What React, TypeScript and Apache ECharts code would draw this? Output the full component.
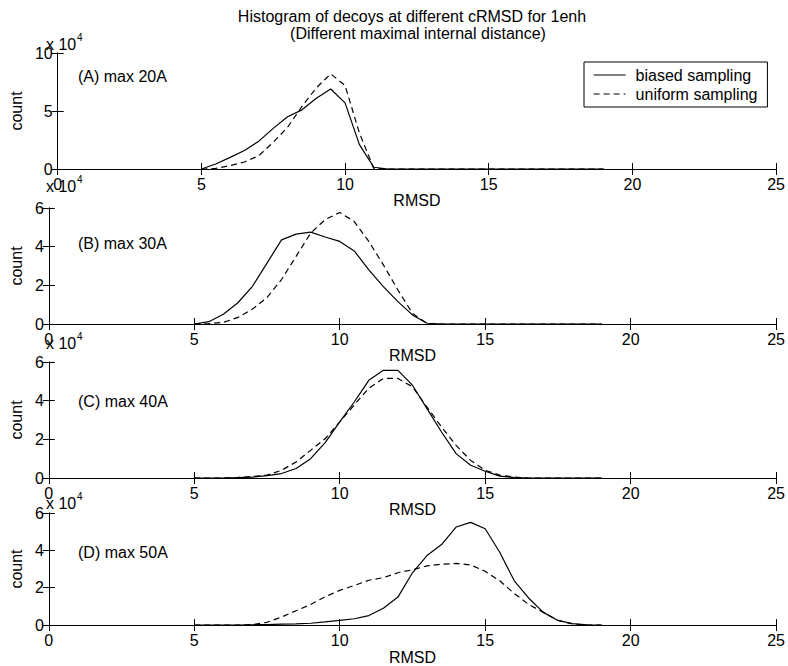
import React, { useEffect, useRef } from "react";
import * as echarts from "echarts";

// RMSD bin centres (shared by every panel)
const rmsd = [5, 5.5, 6, 6.5, 7, 7.5, 8, 8.5, 9, 9.5, 10, 10.5, 11, 11.5, 12, 12.5, 13, 13.5, 14, 14.5, 15, 15.5, 16, 16.5, 17, 17.5, 18, 18.5, 19];

// counts per bin
const biasedA = [0, 4300, 10000, 16000, 24000, 35000, 45000, 51000, 61000, 69000, 57000, 21000, 1500, 0, 0, 0, 0, 0, 0, 0, 0, 0, 0, 0, 0, 0, 0, 0, 0];
const uniformA = [0, 500, 3000, 6000, 11500, 23000, 36000, 54000, 70000, 82000, 72000, 31000, 500, 0, 0, 0, 0, 0, 0, 0, 0, 0, 0, 0, 0, 0, 0, 0, 0];
const biasedB = [0, 1200, 5000, 11000, 19500, 31500, 43500, 46500, 47500, 45000, 42700, 37800, 28000, 19300, 11600, 4700, 400, 0, 0, 0, 0, 0, 0, 0, 0, 0, 0, 0, 0];
const uniformB = [0, 200, 800, 3400, 7700, 13700, 23000, 35000, 47000, 54000, 57700, 53000, 42700, 30600, 17600, 5500, 300, 0, 0, 0, 0, 0, 0, 0, 0, 0, 0, 0, 0];
const biasedC = [0, 0, 0, 200, 500, 1200, 2300, 4900, 10000, 18300, 29000, 39300, 50500, 55700, 55700, 48000, 35900, 23800, 12600, 6600, 3500, 1000, 200, 0, 0, 0, 0, 0, 0];
const uniformC = [0, 0, 0, 300, 800, 1500, 4000, 8300, 14300, 20300, 29000, 37800, 46400, 51500, 51500, 47200, 36700, 26400, 16900, 9100, 4000, 1500, 500, 0, 0, 0, 0, 0, 0];
const biasedD = [0, 0, 0, 0, 200, 300, 500, 700, 1000, 1700, 2500, 3400, 5100, 9000, 15000, 28000, 37200, 43100, 52500, 55000, 51600, 39000, 23700, 14400, 6800, 2500, 800, 200, 0];
const uniformD = [0, 0, 0, 0, 300, 1500, 4300, 7700, 11000, 15200, 18600, 21200, 24000, 25400, 28000, 29600, 31700, 32600, 33000, 32200, 28800, 23700, 16900, 11000, 6800, 2500, 600, 100, 0];

const panelLabels = ["(A) max 20A", "(B) max 30A", "(C) max 40A", "(D) max 50A"];
const biasedSeries = [biasedA, biasedB, biasedC, biasedD];
const uniformSeries = [uniformA, uniformB, uniformC, uniformD];
const yMax = [100000, 60000, 60000, 60000];
const yInterval = [50000, 20000, 20000, 20000];
const xTicks = [0, 5, 10, 15, 20, 25];

const titleLine1 = "Histogram of decoys at different cRMSD for 1enh";
const titleLine2 = "(Different maximal internal distance)";

const FONT = "'Liberation Sans', Arial, Helvetica, sans-serif";

export default function App() {
  const ref = useRef<HTMLDivElement>(null);

  useEffect(() => {
    if (!ref.current) return;
    const chart = echarts.init(ref.current, undefined, { renderer: "svg" });

    const tops = [53, 208, 362, 513];
    const heights = [116, 116, 116, 119];
    const expY = [44, 186, 343, 503];
    const labelY = [76, 243, 401, 552];

    const grids: any[] = [];
    const xAxes: any[] = [];
    const yAxes: any[] = [];
    const series: any[] = [];
    const graphics: any[] = [];

    for (let i = 0; i < 4; i++) {
      grids.push({ left: 45, right: 10, top: tops[i], height: heights[i], containLabel: false });
      const axisLine = { show: true, lineStyle: { color: "#000", width: 1 } };
      const tick = { show: true, inside: true, length: 6, lineStyle: { color: "#000" } };
      xAxes.push({
        gridIndex: i, type: "value", min: xTicks[0], max: xTicks[xTicks.length - 1], interval: 5,
        position: "bottom", axisLine, axisTick: tick, splitLine: { show: false },
        axisLabel: { color: "#000", fontSize: 16, fontFamily: FONT, margin: 7 },
        name: "RMSD", nameLocation: "middle", nameGap: 19,
        nameTextStyle: { color: "#000", fontSize: 16, fontFamily: FONT },
      });
      xAxes.push({
        gridIndex: i, type: "value", min: 0, max: 25, interval: 5,
        position: "top", axisLine, axisTick: tick, splitLine: { show: false },
        axisLabel: { show: false },
      });
      yAxes.push({
        gridIndex: i, type: "value", min: 0, max: yMax[i], interval: yInterval[i],
        position: "left", axisLine, axisTick: tick, splitLine: { show: false },
        axisLabel: { color: "#000", fontSize: 16, fontFamily: FONT, margin: 5, formatter: (v: number) => String(v / 10000) },
        name: "count", nameLocation: "middle", nameGap: 22, nameRotate: 90,
        nameTextStyle: { color: "#000", fontSize: 16, fontFamily: FONT },
      });
      yAxes.push({
        gridIndex: i, type: "value", min: 0, max: yMax[i], interval: yInterval[i],
        position: "right", axisLine, axisTick: tick, splitLine: { show: false },
        axisLabel: { show: false },
      });
      series.push({
        name: "biased sampling", type: "line", xAxisIndex: i * 2, yAxisIndex: i * 2,
        data: rmsd.map((x, k) => [x, biasedSeries[i][k]]), symbol: "none", showSymbol: false,
        lineStyle: { color: "#000", width: 1.2, type: "solid" }, itemStyle: { color: "#000" },
      });
      series.push({
        name: "uniform sampling", type: "line", xAxisIndex: i * 2, yAxisIndex: i * 2,
        data: rmsd.map((x, k) => [x, uniformSeries[i][k]]), symbol: "none", showSymbol: false,
        lineStyle: { color: "#000", width: 1.2, type: [6, 4] }, itemStyle: { color: "#000" },
      });
      graphics.push({
        type: "text", x: 46, y: expY[i],
        style: { text: "x 10", fill: "#000", font: `16px ${FONT}`, textVerticalAlign: "middle" },
      });
      graphics.push({
        type: "text", x: 77, y: expY[i] - 7,
        style: { text: "4", fill: "#000", font: `10px ${FONT}`, textVerticalAlign: "middle" },
      });
      graphics.push({
        type: "text", x: 78, y: labelY[i],
        style: { text: panelLabels[i], fill: "#000", font: `16px ${FONT}`, textVerticalAlign: "middle" },
      });
    }

    graphics.push({
      type: "text", x: 412, y: 16,
      style: { text: titleLine1, fill: "#000", font: `16px ${FONT}`, textAlign: "center", textVerticalAlign: "middle" },
    });
    graphics.push({
      type: "text", x: 418, y: 33,
      style: { text: titleLine2, fill: "#000", font: `16px ${FONT}`, textAlign: "center", textVerticalAlign: "middle" },
    });

    chart.setOption({
      animation: false,
      backgroundColor: "#fff",
      grid: grids,
      xAxis: xAxes,
      yAxis: yAxes,
      series,
      legend: {
        data: ["biased sampling", "uniform sampling"],
        orient: "vertical", left: 584, top: 62,
        padding: [5, 10, 5, 9], itemGap: 3, itemWidth: 32, itemHeight: 14,
        borderColor: "#000", borderWidth: 1, backgroundColor: "#fff",
        itemStyle: { opacity: 0 },
        lineStyle: { color: "#000", width: 1.2 },
        textStyle: { color: "#000", fontSize: 16, fontFamily: FONT, padding: [0, 0, 0, 5] },
      },
      graphic: graphics,
    });

    return () => chart.dispose();
  }, []);

  return <div ref={ref} style={{ position: "fixed", left: 0, top: 0, width: 788, height: 666 }} />;
}
